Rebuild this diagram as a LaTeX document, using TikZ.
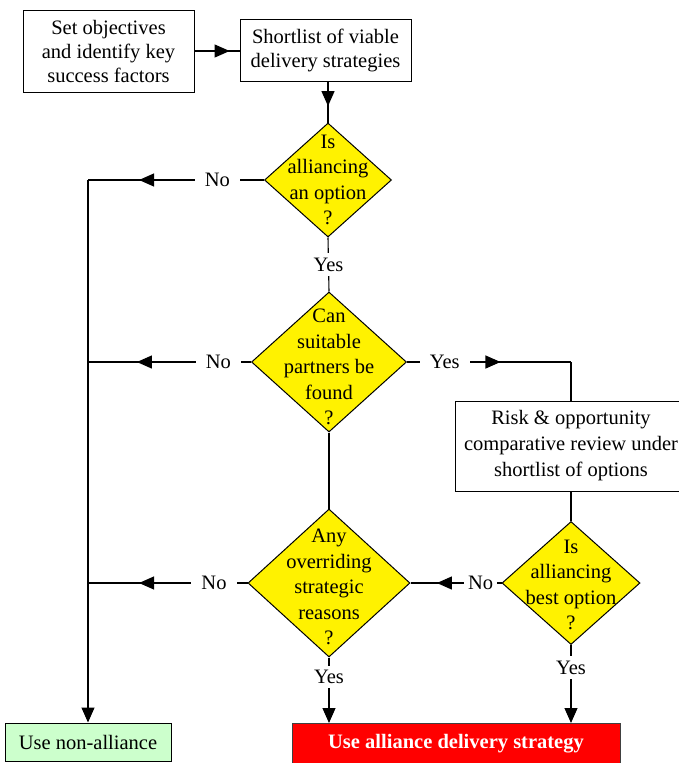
\documentclass[tikz,border=0pt]{standalone}
\usepackage{fontspec}
\setmainfont{Liberation Serif}
\usetikzlibrary{shapes.geometric,arrows.meta,decorations.markings}
\definecolor{lgreen}{HTML}{CCFFCC}
\begin{document}
\begin{tikzpicture}[x=1pt,y=-1pt,
  font=\fontsize{20.5}{24}\selectfont,
  conn/.style={line width=1.1pt},
  endtip/.style={-{Triangle[length=15pt,width=13pt]}},
  midarrow/.style={postaction={decorate},decoration={markings,
      mark=at position #1 with {\arrow{Triangle[length=15pt,width=13pt]}}}},
  box/.style={draw,line width=1pt,inner sep=0pt,align=center},
  dia/.style={diamond,draw,fill=yellow,line width=1pt,inner sep=0pt},
  dtext/.style={align=center,font=\fontsize{20.5}{25.5}\selectfont,inner sep=0pt},
  lbl/.style={fill=white,inner xsep=10pt,inner ysep=4.5pt}
]
\useasboundingbox (0,0) rectangle (678,763);

% process boxes
\node[box,minimum width=171pt,minimum height=82pt] (b1) at (108.5,51)
  {Set objectives\\and identify key\\success factors};
\node[box,minimum width=171pt,minimum height=62pt] (b2) at (325.5,50)
  {Shortlist of viable\\delivery strategies};

% decisions
\node[dia,minimum width=127pt,minimum height=114pt] (d1) at (328,180) {};
\node[dtext] (d1t) at (328,180) {Is\\alliancing\\an option\\?};

\node[dia,minimum width=155pt,minimum height=140pt] (d2) at (329,362) {};
\node[dtext] (d2t) at (329,367) {Can\\suitable\\partners be\\found\\?};

\node[box,font=\fontsize{20.5}{26}\selectfont,minimum width=232pt,minimum height=90pt] (r) at (571,446)
  {Risk \& opportunity\\comparative review under\\shortlist of options};

\node[dia,minimum width=162pt,minimum height=148pt] (d3) at (329,583) {};
\node[dtext] (d3t) at (329,587) {Any\\overriding\\strategic\\reasons\\?};

\node[dia,minimum width=138pt,minimum height=123pt] (d4) at (571,583) {};
\node[dtext] (d4t) at (571,585) {Is\\alliancing\\best option\\?};

% outcomes
\node[box,fill=lgreen,minimum width=166pt,minimum height=38pt] (g) at (88,742) {Use non-alliance};
\node[box,fill=red,draw=black!75,text=white,font=\fontsize{20.5}{24}\selectfont\bfseries,
  minimum width=328pt,minimum height=40pt] (u) at (456,743.5) {Use alliance delivery strategy};

% junctions on the left collector line
\coordinate (j1) at (g.north |- d1.west);
\coordinate (j2) at (g.north |- d2.west);
\coordinate (j3) at (g.north |- d3.west);
\coordinate (k) at (r.north |- d2.east);

% connectors
\draw[conn,midarrow=0.78] (b1.east) -- (b1.east -| b2.west);
\draw[conn,midarrow=0.6] (d1.north |- b2.south) -- (d1.north);

\draw[conn,midarrow=0.71] (d1.west) -- node[lbl,pos=0.265]{No} (j1);
\draw[conn,midarrow=0.70] (d2.west) -- node[lbl,pos=0.2]{No} (j2);
\draw[conn,midarrow=0.68] (d3.west) -- node[lbl,pos=0.21]{No} (j3);
\draw[conn,endtip] (j1) -- (g.north);

\draw[conn] (d1.south) -- node[lbl,inner xsep=2pt]{Yes} (d2.north);
\draw[conn,midarrow=0.57] (d2.east) -- node[lbl,pos=0.23]{Yes} (k);
\draw[conn] (k) -- (r.north);
\draw[conn] (d2.south) -- (d3.north);
\draw[conn] (r.south) -- (d4.north);

\draw[conn,midarrow=0.71] (d4.west) -- node[lbl,pos=0.23,inner xsep=4pt]{No} (d3.east);
\draw[conn,endtip] (d3.south) -- node[lbl,pos=0.3,inner xsep=2pt]{Yes} (d3.south |- u.north);
\draw[conn,endtip] (d4.south) -- node[lbl,pos=0.29,inner xsep=2pt]{Yes} (d4.south |- u.north);
\end{tikzpicture}
\end{document}
